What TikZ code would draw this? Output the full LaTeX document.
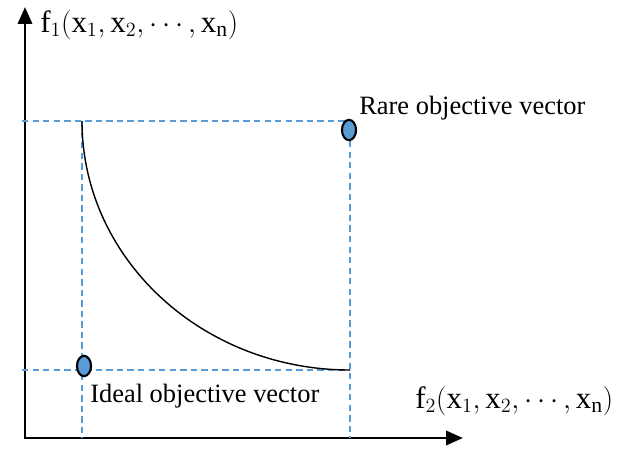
\documentclass[tikz,border=0pt]{standalone}
\usepackage{fontspec}
\setmainfont{Liberation Serif}
\usetikzlibrary{arrows.meta, positioning, shapes.geometric}
\definecolor{cblue}{HTML}{5B9BD5}
\definecolor{cguide}{HTML}{5B9BD5}
\tikzset{
  axis/.style={-{Triangle[length=12pt, width=10pt]}, line width=2.1pt, line cap=rect},
  guide/.style={draw=cguide, line width=0.8pt, dash pattern=on 4.5pt off 3pt},
  front/.style={draw=black, line width=1pt},
  vec/.style={ellipse, draw=black, fill=cblue, line width=1.5pt, minimum width=10pt, minimum height=14.5pt, inner sep=0pt},
  lbl/.style={font=\fontsize{18.8pt}{20pt}\selectfont, inner sep=0pt},
  fun/.style={font=\fontsize{22pt}{24pt}\selectfont, inner sep=0pt},
}
\begin{document}
\begin{tikzpicture}[x=0.025cm, y=-0.025cm]
  \useasboundingbox (0,0) rectangle (624,448);
  % axes
  \coordinate (O) at (25,438);
  \coordinate (ytip) at (25,7);
  \coordinate (xtip) at (463,438);
  \draw[axis] (O) -- (ytip);
  \draw[axis] (O) -- (xtip);
  \node[fun, anchor=base west] (f1) at (40,32) {$\mathrm{f}_1(\mathrm{x}_1,\mathrm{x}_2,\cdots,\mathrm{x}_\mathrm{n})$};
  \node[fun, anchor=base west] (f2) at (415,408) {$\mathrm{f}_2(\mathrm{x}_1,\mathrm{x}_2,\cdots,\mathrm{x}_\mathrm{n})$};
  % guide lines
  \coordinate (ftop) at (82,121);
  \coordinate (fbot) at (350,370);
  \coordinate (tl) at (22,121);
  \coordinate (bl) at (22,370);
  \coordinate (tr) at (350,121);
  \coordinate (ib) at (82,438);
  \coordinate (rb) at (350,438);
  \draw[guide] (tl) -- (tr) -- (rb);
  \draw[guide] (bl) -- (fbot);
  \draw[guide] (ftop) -- (ib);
  % pareto front
  \draw[front] (ftop) .. controls (82,258.5) and (202,370) .. (fbot);
  % objective vectors
  \node[vec] (rare) at (349,130) {};
  \node[vec] (ideal) at (84,366) {};
  \node[lbl, anchor=base west] (rarelbl) at (359,114) {Rare objective vector};
  \node[lbl, anchor=base west] (ideallbl) at (90,402) {Ideal objective vector};
\end{tikzpicture}
\end{document}
